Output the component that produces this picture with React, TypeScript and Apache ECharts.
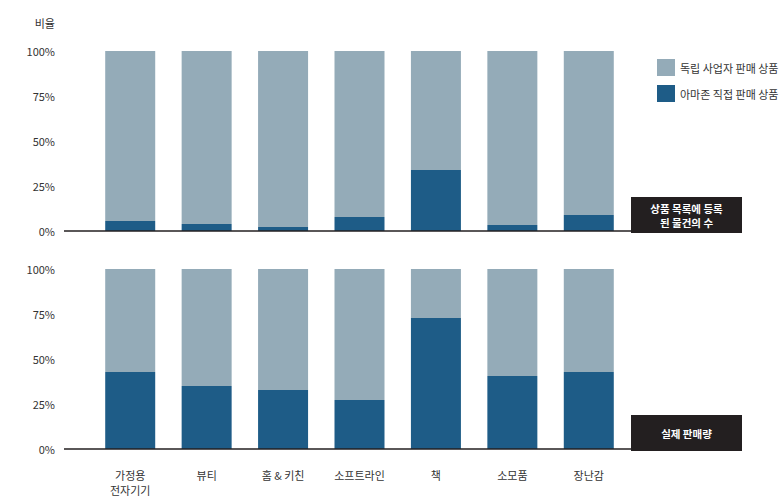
import React, { useEffect, useRef } from "react";
import * as echarts from "echarts";

const categories = ["가정용\n전자기기", "뷰티", "홈 & 키친", "소프트라인", "책", "소모품", "장난감"];
const yTicks = [0, 25, 50, 75, 100];
const seriesNames = ["아마존 직접 판매 상품", "독립 사업자 판매 상품"];
// top panel: 상품 목록에 등록된 물건의 수 (share, %)
const listedAmazon = [5.6, 3.9, 2.2, 7.8, 33.9, 3.3, 8.9];
// bottom panel: 실제 판매량 (share, %)
const salesAmazon = [42.8, 35.0, 32.8, 27.2, 72.8, 40.6, 42.8];
const panelLabels = ["상품 목록에 등록\n된 물건의 수", "실제 판매량"];
const yAxisTitle = "비율";

const DARK = "#1e5c87";
const LIGHT = "#94abb8";
const INK = "#231f20";
const FONT = "Noto Sans CJK KR";

export default function App() {
  const ref = useRef<HTMLDivElement>(null);
  useEffect(() => {
    if (!ref.current) return;
    const chart = echarts.init(ref.current, null, { renderer: "svg" });
    const gridTops = [51, 269];
    const gridH = 180;
    const left = 92;
    const right = 155;
    const mkY = (i: number) => ({
      type: "value",
      gridIndex: i,
      min: 0,
      max: 100,
      interval: 25,
      axisLine: { show: false },
      axisTick: { show: false },
      splitLine: { show: false },
      axisLabel: {
        margin: 37,
        fontSize: 11,
        color: "#333",
        fontFamily: FONT,
        formatter: (v: number) => (yTicks.includes(v) ? v + "%" : ""),
      },
    });
    const mkX = (i: number) => ({
      type: "category",
      gridIndex: i,
      data: categories,
      axisLine: { show: false },
      axisTick: { show: false },
      axisLabel: {
        show: i === 1,
        margin: 18,
        fontSize: 11,
        lineHeight: 15,
        color: "#333",
        fontFamily: FONT,
        verticalAlign: "top",
      },
    });
    const amazonSets = [listedAmazon, salesAmazon];
    const series: any[] = [];
    amazonSets.forEach((arr, i) => {
      series.push({
        name: seriesNames[0],
        type: "bar",
        stack: "s" + i,
        xAxisIndex: i,
        yAxisIndex: i,
        barWidth: 50,
        itemStyle: { color: DARK },
        data: arr,
      });
      series.push({
        name: seriesNames[1],
        type: "bar",
        stack: "s" + i,
        xAxisIndex: i,
        yAxisIndex: i,
        barWidth: 50,
        itemStyle: { color: LIGHT },
        data: arr.map((v) => +(100 - v).toFixed(1)),
      });
    });
    const graphics: any[] = [];
    gridTops.forEach((t, i) => {
      const base = t + gridH;
      graphics.push({
        type: "line",
        shape: { x1: 64, y1: base, x2: 631, y2: base },
        style: { stroke: INK, lineWidth: 1.5 },
        z: 10,
      });
      graphics.push({
        type: "rect",
        shape: { x: 631, y: base - 34, width: 111, height: 36 },
        style: { fill: INK },
        z: 10,
      });
      graphics.push({
        type: "text",
        x: 686.5,
        y: base - 16,
        style: {
          text: panelLabels[i],
          fill: "#fff",
          fontSize: 10.5,
          fontWeight: "bold",
          lineHeight: 14,
          fontFamily: FONT,
          align: "center",
          verticalAlign: "middle",
        },
        z: 11,
      });
    });
    graphics.push({
      type: "text",
      x: 55,
      y: 23,
      style: {
        text: yAxisTitle,
        fill: "#333",
        fontSize: 11,
        fontFamily: FONT,
        align: "right",
        verticalAlign: "middle",
      },
    });
    chart.setOption({
      animation: false,
      grid: gridTops.map((t) => ({ left, right, top: t, height: gridH })),
      xAxis: [mkX(0), mkX(1)],
      yAxis: [mkY(0), mkY(1)],
      legend: {
        orient: "vertical",
        left: 652,
        top: 54,
        itemWidth: 18,
        itemHeight: 17,
        itemGap: 9,
        icon: "rect",
        data: [seriesNames[1], seriesNames[0]],
        textStyle: { fontSize: 11, color: "#333", fontFamily: FONT },
        selectedMode: false,
      },
      series,
      graphic: graphics,
    });
    return () => chart.dispose();
  }, []);
  return (
    <div
      ref={ref}
      style={{ position: "fixed", left: 0, top: 0, width: 782, height: 500, background: "#fff" }}
    />
  );
}
